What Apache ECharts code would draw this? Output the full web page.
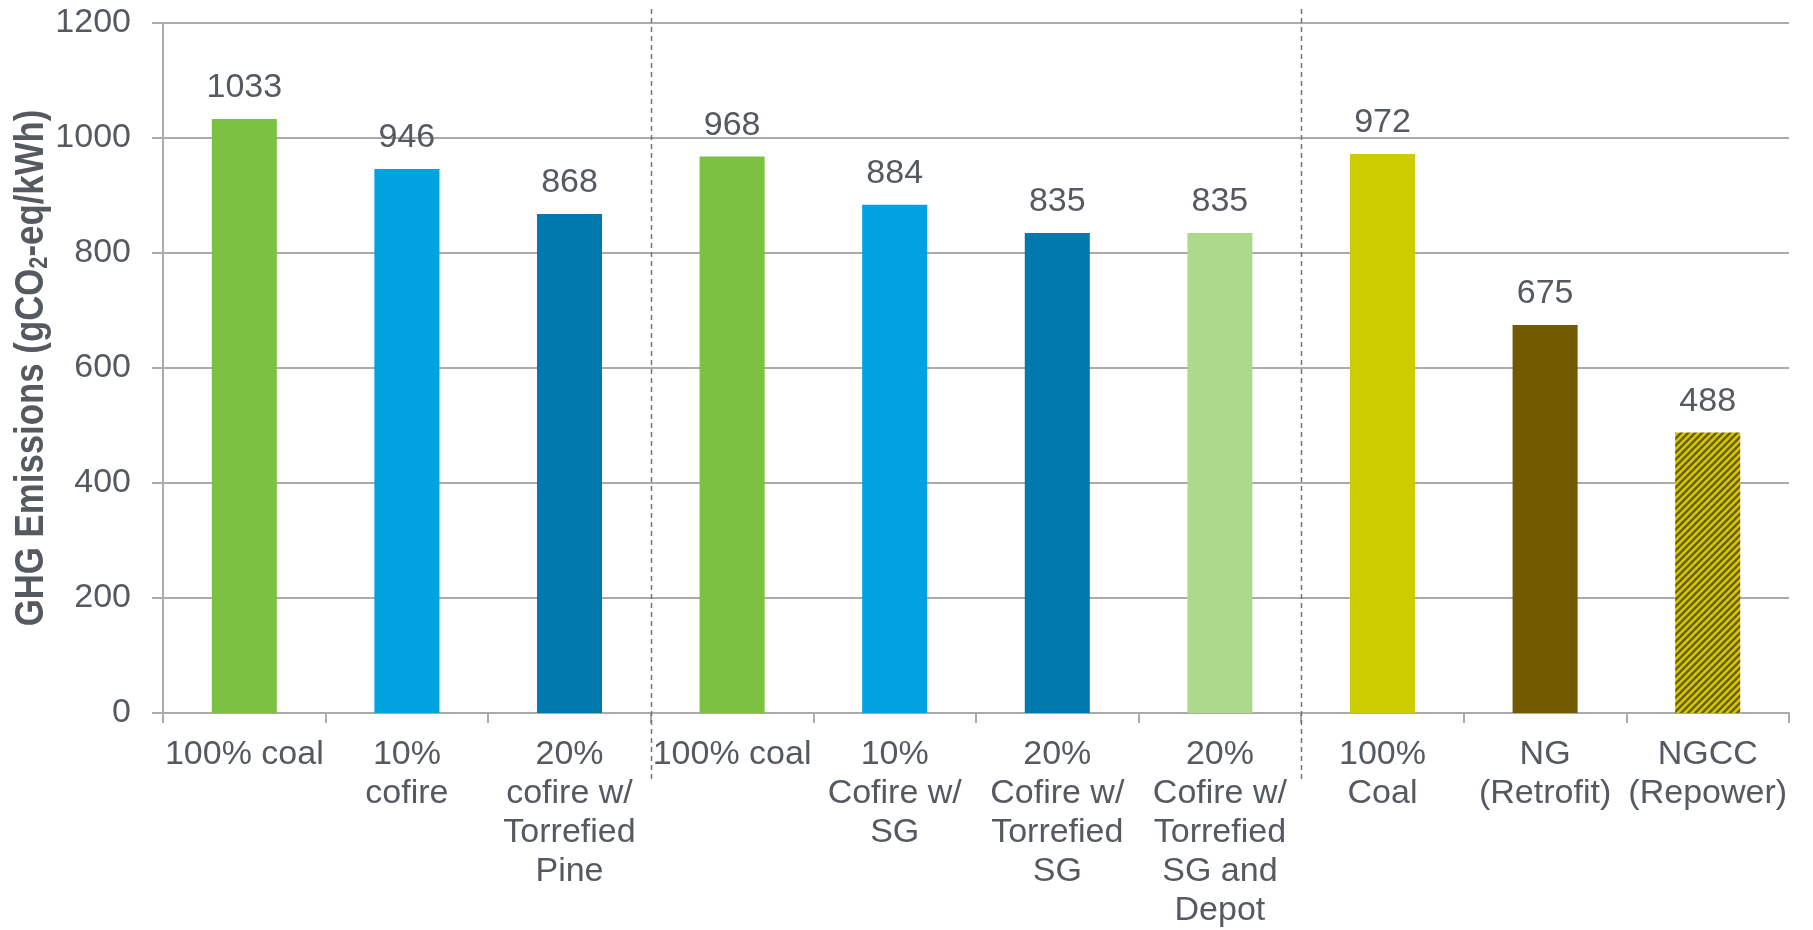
<!DOCTYPE html>
<html>
<head>
<meta charset="utf-8">
<script src="https://cdn.jsdelivr.net/npm/echarts@6/dist/echarts.min.js"></script>
<style>
  html, body { margin: 0; padding: 0; background: #ffffff; }
  #chart { width: 1813px; height: 930px; }
</style>
</head>
<body>
<div id="chart"></div>
<script>
// Scenario labels (three groups: pine cofiring, switchgrass cofiring, natural gas)
const categories = [
  '100% coal',
  '10%\ncofire',
  '20%\ncofire w/\nTorrefied\nPine',
  '100% coal',
  '10%\nCofire w/\nSG',
  '20%\nCofire w/\nTorrefied\nSG',
  '20%\nCofire w/\nTorrefied\nSG and\nDepot',
  '100%\nCoal',
  'NG\n(Retrofit)',
  'NGCC\n(Repower)'
];

// Life-cycle GHG emissions, gCO2-eq/kWh
const emissions = [1033, 946, 868, 968, 884, 835, 835, 972, 675, 488];

// Bar fills; 'hatch' marks the striped NGCC bar
const barFills = ['#7DC142', '#00A3E0', '#0079AC', '#7DC142', '#00A3E0', '#0079AC',
                  '#ADDA8A', '#CCCC00', '#735A00', 'hatch'];

// Value axis ticks
const yMin = 0, yMax = 1200, yStep = 200;

// Indexes of the categories that start a new scenario group
const groupStarts = [3, 7];

// Value axis title (CO2 with subscript)
const yTitle = '{b|GHG Emissions (gCO}{s|2}{b|-eq/kWh)}';

const TEXT = '#555A60';
const GRID = '#ABABAB';
const FONT = '"Liberation Sans", Arial, sans-serif';

// Diagonal yellow/brown stripe tile
function makeHatch() {
  const s = 7;
  const c = document.createElement('canvas');
  c.width = s; c.height = s;
  const g = c.getContext('2d');
  g.fillStyle = '#CCCC00';
  g.fillRect(0, 0, s, s);
  g.strokeStyle = '#735A00';
  g.lineWidth = 2.4;
  g.beginPath();
  for (let k = -1; k <= 1; k++) {
    g.moveTo(k * s - 1, s + 1);
    g.lineTo(k * s + s + 1, -1);
  }
  g.stroke();
  return c;
}
const hatch = makeHatch();

const chart = echarts.init(document.getElementById('chart'), null, { renderer: 'canvas' });

const barData = emissions.map((v, i) => ({
  value: v,
  itemStyle: {
    color: barFills[i] === 'hatch' ? { image: hatch, repeat: 'repeat' } : barFills[i]
  }
}));

chart.setOption({
  backgroundColor: '#ffffff',
  animation: false,
  textStyle: { fontFamily: FONT },
  grid: { left: 163, right: 24, top: 23, bottom: 217, containLabel: false, outerBoundsMode: 'none' },
  xAxis: {
    type: 'category',
    data: categories,
    axisLine: { show: true, lineStyle: { color: GRID, width: 2 } },
    axisTick: { show: true, length: 10, lineStyle: { color: GRID, width: 2 } },
    axisLabel: {
      interval: 0,
      margin: 22,
      color: TEXT,
      fontSize: 34,
      lineHeight: 39,
      fontFamily: FONT
    },
    splitLine: { show: false }
  },
  yAxis: {
    type: 'value',
    min: yMin,
    max: yMax,
    interval: yStep,
    axisLine: { show: true, lineStyle: { color: GRID, width: 2 } },
    axisTick: { show: true, length: 11, lineStyle: { color: GRID, width: 2 } },
    axisLabel: {
      color: TEXT, fontSize: 34, margin: 32, fontFamily: FONT,
      formatter: v => String(v)
    },
    splitLine: { show: true, lineStyle: { color: GRID, width: 2 } }
  },
  series: [{
    type: 'bar',
    data: barData,
    barWidth: '40%',
    label: {
      show: true,
      position: 'top',
      distance: 14,
      color: TEXT,
      fontSize: 34,
      fontFamily: FONT
    }
  }]
});

// Condensed, rotated axis title plus dashed separators between scenario groups
function drawOverlays() {
  const top = 9, bottom = 780;
  const yTop = chart.convertToPixel({ yAxisIndex: 0 }, yMax);
  const yBot = chart.convertToPixel({ yAxisIndex: 0 }, yMin);
  const items = groupStarts.map(idx => {
    const a = chart.convertToPixel({ xAxisIndex: 0 }, categories[idx - 1]);
    const b = chart.convertToPixel({ xAxisIndex: 0 }, categories[idx]);
    const x = Math.round((a + b) / 2) + 0.5;
    return {
      type: 'line',
      shape: { x1: x, y1: top, x2: x, y2: bottom },
      style: { stroke: '#6B7580', lineWidth: 1.5, lineDash: [5, 4] },
      z: 10
    };
  });
  items.push({
    type: 'text',
    x: 32,
    y: (yTop + yBot) / 2,
    rotation: Math.PI / 2,
    scaleX: 0.87,
    style: {
      text: yTitle,
      align: 'center',
      verticalAlign: 'middle',
      rich: {
        b: { fontSize: 40, fontWeight: 'bold', fill: TEXT, fontFamily: FONT },
        s: { fontSize: 25, fontWeight: 'bold', fill: TEXT, fontFamily: FONT, padding: [17, 0, 0, 0] }
      }
    },
    z: 10
  });
  chart.setOption({ graphic: items });
}
drawOverlays();
</script>
</body>
</html>
